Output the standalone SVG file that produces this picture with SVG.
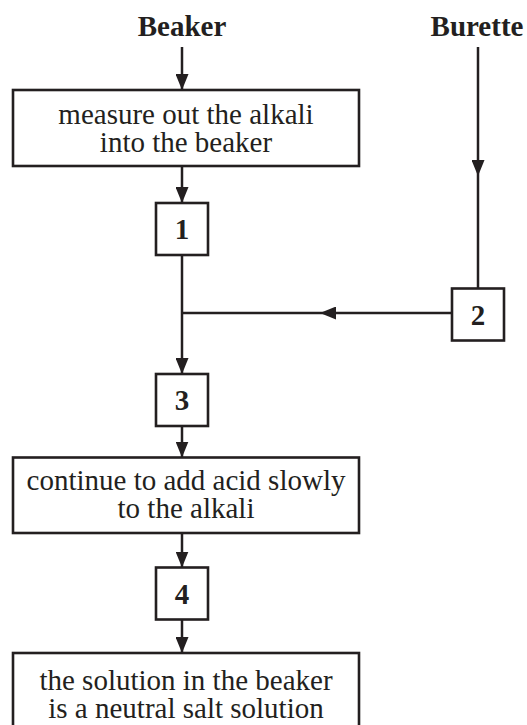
<svg xmlns="http://www.w3.org/2000/svg" width="527" height="725" viewBox="0 0 527 725">
<style>
.box{fill:#fff;stroke:#231f20;stroke-width:2.6}
.ln{fill:none;stroke:#231f20;stroke-width:2.5}
.t{font-family:"Liberation Serif","Times New Roman",serif;font-size:29px;fill:#231f20;text-anchor:middle}
.b{font-weight:bold}
</style>
<defs>
<marker id="ah" viewBox="0 0 16 13" refX="16" refY="6.5" markerWidth="16" markerHeight="13" markerUnits="userSpaceOnUse" orient="auto">
<path d="M0,0 L16,6.5 L0,13 z" fill="#231f20"/>
</marker>
</defs>
<rect width="527" height="725" fill="#fff"/>
<g id="connectors">
<path class="ln" d="M182,47 L182,90" marker-end="url(#ah)"/>
<path class="ln" d="M182,166 L182,203" marker-end="url(#ah)"/>
<path class="ln" d="M182,255 L182,374" marker-end="url(#ah)"/>
<path class="ln" d="M478,47 L478,176 L478,288" marker-mid="url(#ah)"/>
<path class="ln" d="M452,313 L320,313 L182,313" marker-mid="url(#ah)"/>
<path class="ln" d="M182,426 L182,457.5" marker-end="url(#ah)"/>
<path class="ln" d="M182,533 L182,567.5" marker-end="url(#ah)"/>
<path class="ln" d="M182,619.5 L182,653" marker-end="url(#ah)"/>
</g>
<g id="beaker"><text class="t b" x="182" y="36">Beaker</text></g>
<g id="burette"><text class="t b" x="477" y="36">Burette</text></g>
<g id="measure">
<rect class="box" x="13" y="90" width="346" height="76"/>
<text class="t" x="186" y="124">measure out the alkali</text>
<text class="t" x="186" y="152">into the beaker</text>
</g>
<g id="step1">
<rect class="box" x="156" y="203" width="52" height="52"/>
<text class="t b" x="182" y="239">1</text>
</g>
<g id="step2">
<rect class="box" x="452" y="288.5" width="52" height="52"/>
<text class="t b" x="478" y="324.5">2</text>
</g>
<g id="step3">
<rect class="box" x="156" y="374" width="52" height="52"/>
<text class="t b" x="182" y="410">3</text>
</g>
<g id="continue">
<rect class="box" x="13" y="457.5" width="346" height="75.5"/>
<text class="t" x="186" y="490">continue to add acid slowly</text>
<text class="t" x="186" y="518">to the alkali</text>
</g>
<g id="step4">
<rect class="box" x="156" y="567.5" width="52" height="52"/>
<text class="t b" x="182" y="603.5">4</text>
</g>
<g id="solution">
<rect class="box" x="13" y="653" width="346" height="90"/>
<text class="t" x="186" y="690">the solution in the beaker</text>
<text class="t" x="186" y="718">is a neutral salt solution</text>
</g>
</svg>
